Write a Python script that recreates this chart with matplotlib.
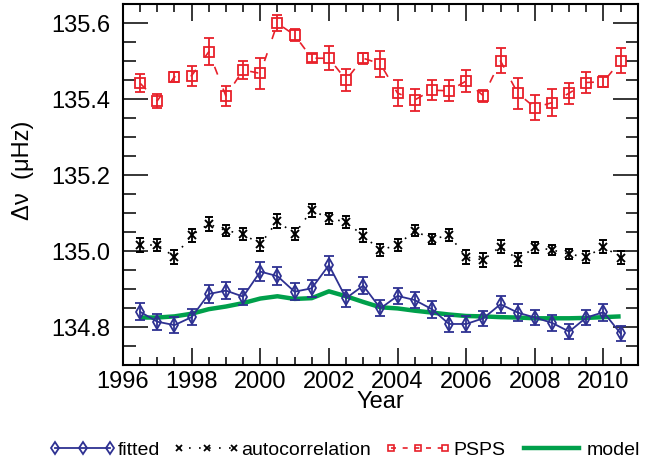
import numpy as np
import matplotlib
matplotlib.use("Agg")
import matplotlib.pyplot as plt
from matplotlib.lines import Line2D
from matplotlib.ticker import MultipleLocator

plt.rcParams['font.family'] = ['Liberation Sans', 'DejaVu Sans']

years = [1996.5 + 0.5 * i for i in range(29)]

fitted = [134.840, 134.814, 134.805, 134.826, 134.887, 134.896, 134.880, 134.946,
          134.934, 134.893, 134.902, 134.963, 134.876, 134.909, 134.849, 134.882,
          134.871, 134.847, 134.808, 134.808, 134.823, 134.860, 134.838, 134.825,
          134.811, 134.788, 134.825, 134.839, 134.783]
fitted_err = [0.022, 0.021, 0.022, 0.022, 0.024, 0.022, 0.021, 0.026,
              0.024, 0.022, 0.022, 0.025, 0.022, 0.023, 0.021, 0.022,
              0.022, 0.022, 0.022, 0.021, 0.020, 0.022, 0.022, 0.021,
              0.021, 0.019, 0.021, 0.022, 0.019]

autocorr = [135.016, 135.016, 134.985, 135.042, 135.071, 135.054, 135.045, 135.018,
            135.079, 135.045, 135.108, 135.086, 135.077, 135.040, 135.003, 135.016,
            135.054, 135.031, 135.042, 134.984, 134.977, 135.012, 134.978, 135.010,
            135.003, 134.992, 134.984, 135.012, 134.983]
autocorr_err = [0.019, 0.016, 0.018, 0.017, 0.018, 0.015, 0.015, 0.017,
                0.019, 0.016, 0.017, 0.014, 0.016, 0.017, 0.015, 0.015,
                0.015, 0.013, 0.016, 0.018, 0.019, 0.017, 0.016, 0.014,
                0.013, 0.014, 0.015, 0.016, 0.017]

psps = [135.442, 135.396, 135.459, 135.462, 135.525, 135.408, 135.477, 135.468,
        135.600, 135.569, 135.508, 135.508, 135.451, 135.508, 135.493, 135.416,
        135.398, 135.424, 135.422, 135.448, 135.409, 135.501, 135.416, 135.378,
        135.391, 135.416, 135.444, 135.446, 135.501]
psps_err = [0.024, 0.019, 0.013, 0.026, 0.035, 0.026, 0.023, 0.040,
            0.021, 0.016, 0.011, 0.031, 0.029, 0.015, 0.035, 0.034,
            0.030, 0.026, 0.028, 0.028, 0.016, 0.033, 0.041, 0.033,
            0.035, 0.028, 0.027, 0.014, 0.033]

model = [134.825, 134.825, 134.828, 134.835, 134.847, 134.854, 134.863, 134.875,
         134.881, 134.874, 134.876, 134.894, 134.881, 134.866, 134.852, 134.849,
         134.843, 134.838, 134.833, 134.829, 134.828, 134.826, 134.825, 134.823,
         134.823, 134.823, 134.824, 134.826, 134.828]

blue = '#2e3192'
red = '#e8202a'
green = '#00a04b'

fig = plt.figure(figsize=(6.63, 4.63), dpi=100)
ax = fig.add_axes([0.1855, 0.2117, 0.7765, 0.779])

ax.plot(years, model, color=green, lw=3.2, solid_capstyle='butt', zorder=2)

ax.errorbar(years, fitted, yerr=fitted_err, fmt='none', ecolor=blue,
            elinewidth=1.3, capsize=3.4, capthick=1.3, zorder=3)
ax.plot(years, fitted, color=blue, lw=1.3, marker='d', ms=7.5,
        mfc='none', mec=blue, mew=1.3, zorder=4)

ax.errorbar(years, autocorr, yerr=autocorr_err, fmt='none', ecolor='black',
            elinewidth=1.3, capsize=3.2, capthick=1.4, zorder=3)
ax.plot(years, autocorr, color='black', lw=1.2, ls=(0, (1, 5)), marker='x', ms=6,
        mec='black', mew=1.4, zorder=4)

ax.errorbar(years, psps, yerr=psps_err, fmt='none', ecolor=red,
            elinewidth=1.3, capsize=3.4, capthick=1.3, zorder=3)
ax.plot(years, psps, color=red, lw=1.2, ls=(0, (5, 9)), marker='s', ms=6.8,
        mfc='none', mec=red, mew=1.3, zorder=4)

ax.set_xlim(1996, 2011)
ax.set_ylim(134.7, 135.65)
ax.set_xticks([1996, 1998, 2000, 2002, 2004, 2006, 2008, 2010])
ax.xaxis.set_minor_locator(MultipleLocator(0.5))
ax.set_yticks([134.8, 135.0, 135.2, 135.4, 135.6])
ax.yaxis.set_minor_locator(MultipleLocator(0.05))
ax.set_yticklabels(['134.8', '135.0', '135.2', '135.4', '135.6'])

for s in ax.spines.values():
    s.set_linewidth(1.5)
ax.tick_params(axis='both', which='both', direction='in', top=True, right=True,
               labelsize=17, width=1.1)
ax.tick_params(axis='x', which='major', length=12.5, pad=4)
ax.tick_params(axis='x', which='minor', length=6)
ax.tick_params(axis='y', which='major', length=18, pad=9)
ax.tick_params(axis='y', which='minor', length=9)

ax.set_xlabel('Year', fontsize=17, labelpad=-1)
ax.set_ylabel('Δν  (μHz)', fontsize=17)
ax.yaxis.set_label_coords(-0.172, 0.54)

handles = [
    Line2D([], [], color=blue, lw=1.3, marker='d', ms=6, mfc='none', mec=blue, mew=1.3),
    Line2D([], [], color='black', lw=1.2, ls=(0, (1, 5)), marker='x', ms=5, mew=1.3),
    Line2D([], [], color=red, lw=1.2, ls=(0, (3, 4)), marker='s', ms=5, mfc='none', mec=red, mew=1.2),
    Line2D([], [], color=green, lw=3.2),
]
labels = ['fitted', 'autocorrelation', 'PSPS', 'model']
fig.legend(handles, labels, loc='center', bbox_to_anchor=(0.52, 0.027), ncol=4,
           frameon=False, fontsize=14, numpoints=3, handlelength=3.4,
           handletextpad=0.1, columnspacing=0.7, borderpad=0)

fig.savefig('out.png', dpi=100)
